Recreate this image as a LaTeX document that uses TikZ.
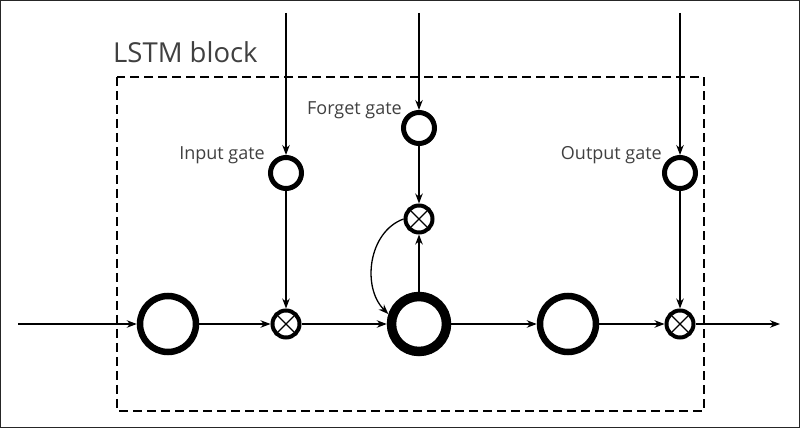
\documentclass[tikz,border=0pt]{standalone}
\usepackage{fontspec}
\setmainfont{Open Sans}
\usetikzlibrary{arrows.meta}
\begin{document}
\begin{tikzpicture}[x=1pt,y=1pt,
  conn/.style={line width=1.3pt,-{Stealth[length=10pt,width=7.5pt]}},
  plain/.style={line width=1.3pt},
  bigc/.style={circle,draw,line width=6.5pt,minimum size=56pt,inner sep=0pt},
  cellc/.style={circle,draw,line width=9.5pt,minimum size=55pt,inner sep=0pt},
  gatec/.style={circle,draw,line width=5pt,minimum size=31pt,inner sep=0pt},
  multc/.style={circle,draw,line width=4pt,minimum size=27pt,inner sep=0pt},
  lbl/.style={font=\fontsize{18}{20}\selectfont,inner sep=0pt,anchor=base east,text=black!75}]
\useasboundingbox (0,0) rectangle (800,428);
\draw[line width=1.2pt,black!85] (0.6,0.6) rectangle (799.4,427.4);
% dashed block
\draw[line width=1.5pt,dash pattern=on 9pt off 5pt] (117,351) rectangle (704,17);
\node[anchor=base west,inner sep=0pt,font=\fontsize{27.5}{30}\selectfont,text=black!75] (title) at (113,365) {LSTM block};
% nodes
\coordinate (in) at (18,104);
\coordinate (out) at (780,104);
\node[bigc] (c1) at (168,104) {};
\node[multc] (im) at (286,104) {};
\node[cellc] (cell) at (419,104) {};
\node[bigc] (c3) at (568,104) {};
\node[multc] (om) at (680,104) {};
\node[multc] (fm) at (419,209) {};
\node[gatec] (ig) at (286,255) {};
\node[gatec] (fg) at (419,300) {};
\node[gatec] (og) at (680,255) {};
\coordinate (it) at (286,415);
\coordinate (ft) at (419,415);
\coordinate (ot) at (680,415);
% crosses
\foreach \m in {im,om,fm}{
  \draw[plain] (\m.45) -- (\m.225) (\m.135) -- (\m.315);
}
% labels
\node[lbl] (il) at (265,268) {Input gate};
\node[lbl] (fl) at (402,313) {Forget gate};
\node[lbl] (ol) at (662,268) {Output gate};
% connectors
\draw[conn] (in) -- (c1);
\draw[conn] (c1) -- (im);
\draw[conn] (im) -- (cell);
\draw[conn] (cell) -- (c3);
\draw[conn] (c3) -- (om);
\draw[conn] (om) -- (out);
\draw[conn] (it) -- (ig);
\draw[conn] (ft) -- (fg);
\draw[conn] (ot) -- (og);
\draw[conn] (ig) -- (im);
\draw[conn] (og) -- (om);
\draw[conn] (fg) -- (fm);
\draw[conn] (cell) -- (fm);
\draw[conn] (fm.west) to[out=200,in=135] (cell.162);
\end{tikzpicture}
\end{document}
